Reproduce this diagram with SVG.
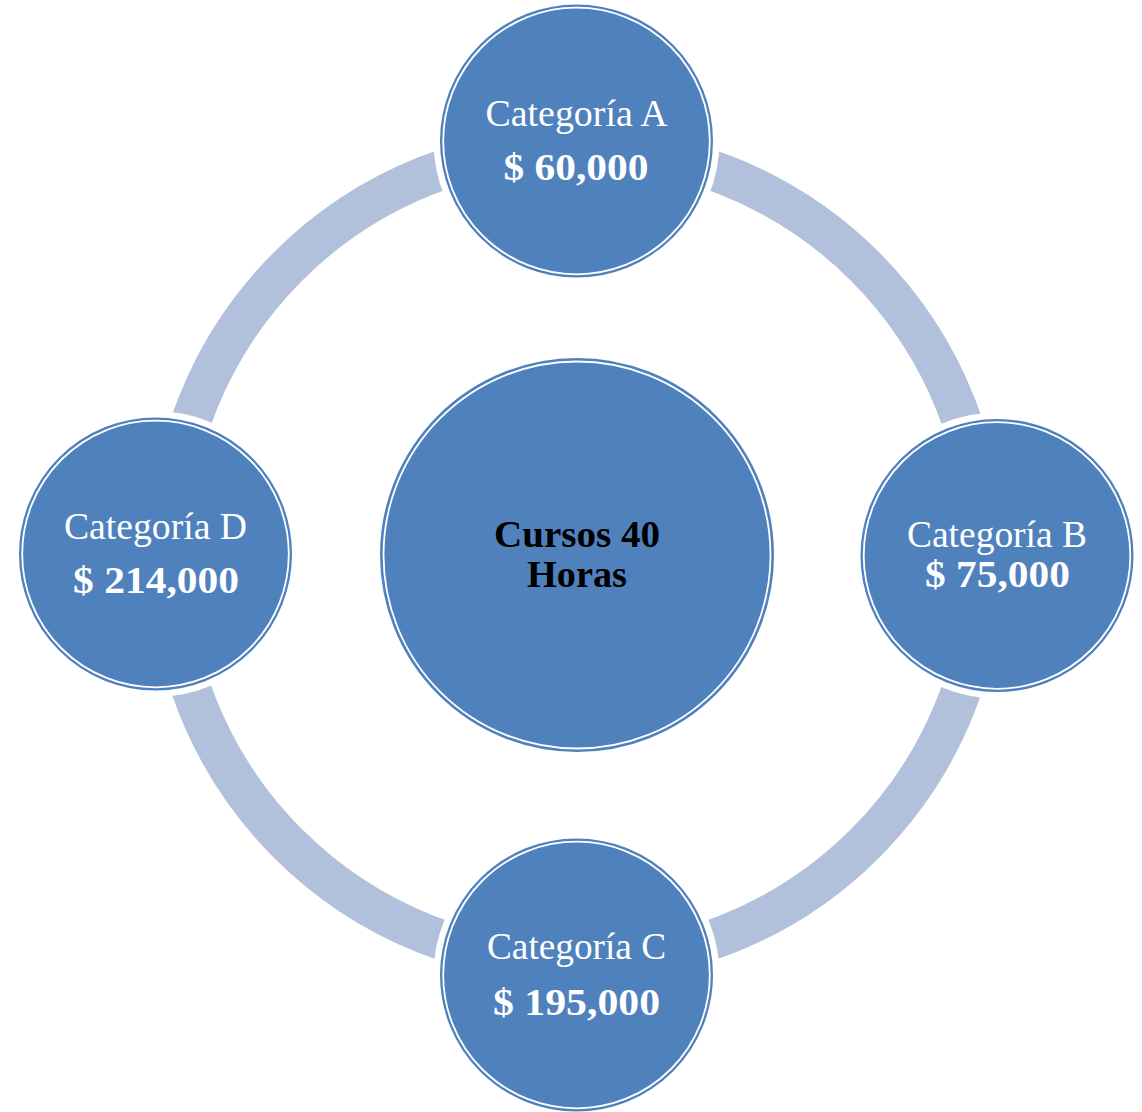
<svg xmlns="http://www.w3.org/2000/svg" width="1142" height="1112" viewBox="0 0 1142 1112">
<style>
.ring{fill:none;stroke:#b1c1dc;stroke-width:40;stroke-linecap:butt}
.node{fill:#4f81bd;stroke:#4f81bd;stroke-width:2}
.inner{fill:none;stroke:#ffffff;stroke-width:1.8}
.lbl{font-family:"Liberation Serif","Times New Roman",serif;font-size:38px;fill:#ffffff;text-anchor:middle}
.val{font-family:"Liberation Serif","Times New Roman",serif;font-size:38px;font-weight:bold;fill:#ffffff;text-anchor:middle}
.ctr{font-family:"Liberation Serif","Times New Roman",serif;font-size:38px;font-weight:bold;fill:#000000;text-anchor:middle}
</style>
<defs>
<mask id="gap" maskUnits="userSpaceOnUse" x="0" y="0" width="1142" height="1112">
<rect x="0" y="0" width="1142" height="1112" fill="#fff"/>
<circle cx="576.5" cy="141" r="143" fill="#000"/>
<circle cx="997" cy="555.5" r="143" fill="#000"/>
<circle cx="576.5" cy="975" r="143" fill="#000"/>
<circle cx="155.5" cy="554" r="143" fill="#000"/>
</mask>
</defs>
<rect x="0" y="0" width="1142" height="1112" fill="#ffffff"/>
<g id="connectors" mask="url(#gap)">
<path class="ring" d="M 576.5 147 A 408 408 0 0 1 984.5 555"/>
<path class="ring" d="M 984.5 555 A 408 408 0 0 1 576.5 963"/>
<path class="ring" d="M 576.5 963 A 408 408 0 0 1 168.5 555"/>
<path class="ring" d="M 168.5 555 A 408 408 0 0 1 576.5 147"/>
</g>
<g id="center">
<circle class="node" cx="577" cy="555" r="196"/>
<circle class="inner" cx="577" cy="555" r="193.5"/>
<text class="ctr" x="577" y="547" textLength="166" lengthAdjust="spacingAndGlyphs">Cursos 40</text>
<text class="ctr" x="577" y="587" textLength="100" lengthAdjust="spacingAndGlyphs">Horas</text>
</g>
<g id="catA">
<circle class="node" cx="576.5" cy="141" r="135.5"/>
<circle class="inner" cx="576.5" cy="141" r="133.3"/>
<text class="lbl" x="576.5" y="126" textLength="182" lengthAdjust="spacingAndGlyphs">Categoría A</text>
<text class="val" x="576" y="180" textLength="145" lengthAdjust="spacingAndGlyphs">$ 60,000</text>
</g>
<g id="catB">
<circle class="node" cx="997" cy="555.5" r="135.5"/>
<circle class="inner" cx="997" cy="555.5" r="133.3"/>
<text class="lbl" x="997" y="547" textLength="180" lengthAdjust="spacingAndGlyphs">Categoría B</text>
<text class="val" x="997.5" y="587" textLength="145" lengthAdjust="spacingAndGlyphs">$ 75,000</text>
</g>
<g id="catC">
<circle class="node" cx="576.5" cy="975" r="135.5"/>
<circle class="inner" cx="576.5" cy="975" r="133.3"/>
<text class="lbl" x="576.5" y="959" textLength="179" lengthAdjust="spacingAndGlyphs">Categoría C</text>
<text class="val" x="576.5" y="1015" textLength="167" lengthAdjust="spacingAndGlyphs">$ 195,000</text>
</g>
<g id="catD">
<circle class="node" cx="155.5" cy="554" r="135.5"/>
<circle class="inner" cx="155.5" cy="554" r="133.3"/>
<text class="lbl" x="155.5" y="539" textLength="183" lengthAdjust="spacingAndGlyphs">Categoría D</text>
<text class="val" x="156" y="593" textLength="166" lengthAdjust="spacingAndGlyphs">$ 214,000</text>
</g>
</svg>
